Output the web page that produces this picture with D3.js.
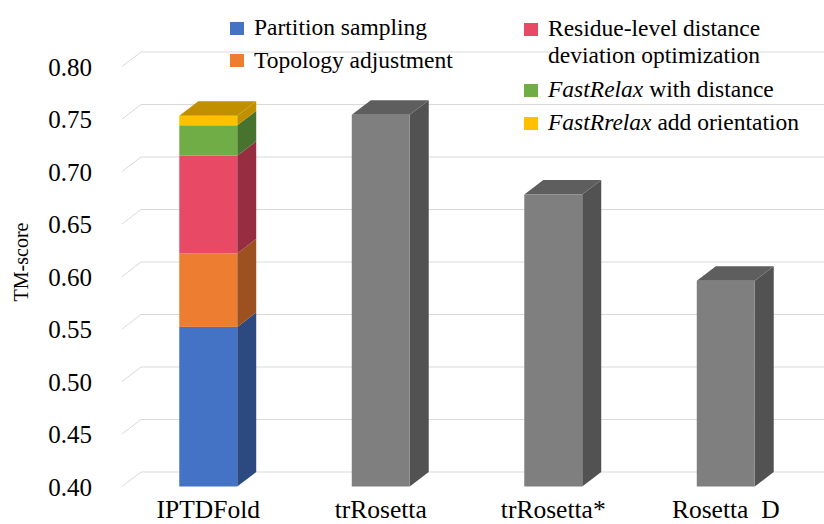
<!DOCTYPE html>
<html>
<head>
<meta charset="utf-8">
<script src="https://cdn.jsdelivr.net/npm/d3@7"></script>
<style>
  html, body { margin: 0; padding: 0; background: #fff; }
  svg { display: block; }
</style>
</head>
<body>
<svg id="chart" width="824" height="524"></svg>
<script>
// Methods compared
const categories = ["IPTDFold", "trRosetta", "trRosetta*", "Rosetta  D"];

// IPTDFold is built up stage by stage; cumulative TM-score after each stage
const stageNames = [
  "Partition sampling",
  "Topology adjustment",
  "Residue-level distance deviation optimization",
  "FastRelax with distance",
  "FastRrelax add orientation"
];
const stageTops = [0.552, 0.622, 0.715, 0.744, 0.753];

// Single-valued baselines
const baselineValues = [0.754, 0.678, 0.596];

// Axis ticks
const yTicks = [0.40, 0.45, 0.50, 0.55, 0.60, 0.65, 0.70, 0.75, 0.80];

// Face colours: front, side, top
const stageColors = [
  { front: "#4472C4", side: "#2C4A80", top: "#3A63AC" },
  { front: "#ED7D31", side: "#9D5120", top: "#C9692A" },
  { front: "#E84A65", side: "#962D41", top: "#C43E55" },
  { front: "#70AD47", side: "#48732E", top: "#5E933C" },
  { front: "#FFC000", side: "#C09000", top: "#C09000" }
];
const grayFace = { front: "#7F7F7F", side: "#525252", top: "#5E5E5E" };

const FONT = "'Times New Roman', 'Liberation Serif', serif";

const svg = d3.select("#chart").attr("font-family", FONT);

// 3D depth offset of the back wall relative to the front plane
const depthX = 19, depthY = -14.5;

const x = d3.scaleBand()
  .domain(categories)
  .range([122, 812])
  .paddingInner(0.664)
  .paddingOuter(0.332);

const y = d3.scaleLinear().domain([0.40, 0.80]).range([486.5, 66.5]);

// Gridlines: floor diagonal on the left and back-wall horizontal
const grid = svg.append("g").attr("stroke", "#D9D9D9").attr("stroke-width", 1).attr("fill", "none");
yTicks.forEach(t => {
  const yf = y(t);
  grid.append("path")
    .attr("d", `M122,${yf} L${122 + depthX},${yf + depthY} L824,${yf + depthY}`);
});

// Tick labels
svg.append("g")
  .selectAll("text")
  .data(yTicks)
  .join("text")
  .attr("font-family", FONT)
  .attr("x", 92)
  .attr("y", d => y(d))
  .attr("dy", "0.36em")
  .attr("text-anchor", "end")
  .attr("font-size", 25)
  .attr("fill", "#000")
  .text(d => d3.format(".2f")(d));

// Axis title
svg.append("text")
  .attr("font-family", FONT)
  .attr("transform", "translate(28,262) rotate(-90)")
  .attr("text-anchor", "middle")
  .attr("font-size", 20)
  .text("TM-score");

// One 3D box segment between two values
function drawBox(g, cat, v0, v1, col, withTop) {
  const x0 = x(cat), x1 = x0 + x.bandwidth();
  const yb = y(v0), yt = y(v1);
  g.append("path")
    .attr("d", `M${x1},${yt} L${x1 + depthX},${yt + depthY} L${x1 + depthX},${yb + depthY} L${x1},${yb} Z`)
    .attr("fill", col.side);
  g.append("rect")
    .attr("x", x0).attr("y", yt)
    .attr("width", x1 - x0).attr("height", yb - yt)
    .attr("fill", col.front);
  if (withTop) {
    g.append("path")
      .attr("d", `M${x0},${yt} L${x0 + depthX},${yt + depthY} L${x1 + depthX},${yt + depthY} L${x1},${yt} Z`)
      .attr("fill", col.top);
  }
}

const bars = svg.append("g");

// Stacked IPTDFold column
let prev = 0.40;
stageTops.forEach((top, i) => {
  drawBox(bars, categories[0], prev, top, stageColors[i], i === stageTops.length - 1);
  prev = top;
});

// Gray baseline columns
baselineValues.forEach((v, i) => {
  drawBox(bars, categories[i + 1], 0.40, v, grayFace, true);
});

// Category labels
svg.append("g")
  .selectAll("text")
  .data(categories)
  .join("text")
  .attr("font-family", FONT)
  .attr("x", d => x(d) + x.bandwidth() / 2)
  .attr("y", 518)
  .attr("text-anchor", "middle")
  .attr("font-size", 25.5)
  .attr("xml:space", "preserve")
  .style("white-space", "pre")
  .text(d => d);

// Legend, two columns
const legend = svg.append("g").attr("font-size", 23.5).attr("font-family", FONT);
const legendItems = [
  { i: 0, sx: 230, sy: 22, tx: 254, lines: [[{ t: "Partition sampling" }]], base: 35 },
  { i: 1, sx: 230, sy: 54, tx: 254, lines: [[{ t: "Topology adjustment" }]], base: 68 },
  { i: 2, sx: 524, sy: 23, tx: 548, lines: [[{ t: "Residue-level distance" }], [{ t: "deviation optimization" }]], base: 36 },
  { i: 3, sx: 524, sy: 84, tx: 548, lines: [[{ t: "FastRelax", it: true }, { t: " with distance" }]], base: 97 },
  { i: 4, sx: 524, sy: 117, tx: 548, lines: [[{ t: "FastRrelax", it: true }, { t: " add orientation" }]], base: 130 }
];
legendItems.forEach(item => {
  legend.append("rect")
    .attr("x", item.sx).attr("y", item.sy)
    .attr("width", 14).attr("height", 13)
    .attr("fill", stageColors[item.i].front);
  item.lines.forEach((parts, li) => {
    const t = legend.append("text")
      .attr("font-family", FONT)
      .attr("x", item.tx)
      .attr("y", item.base + li * 27)
      .attr("xml:space", "preserve")
      .style("white-space", "pre");
    parts.forEach(p => {
      t.append("tspan")
        .attr("font-style", p.it ? "italic" : null)
        .text(p.t);
    });
  });
});
</script>
</body>
</html>
